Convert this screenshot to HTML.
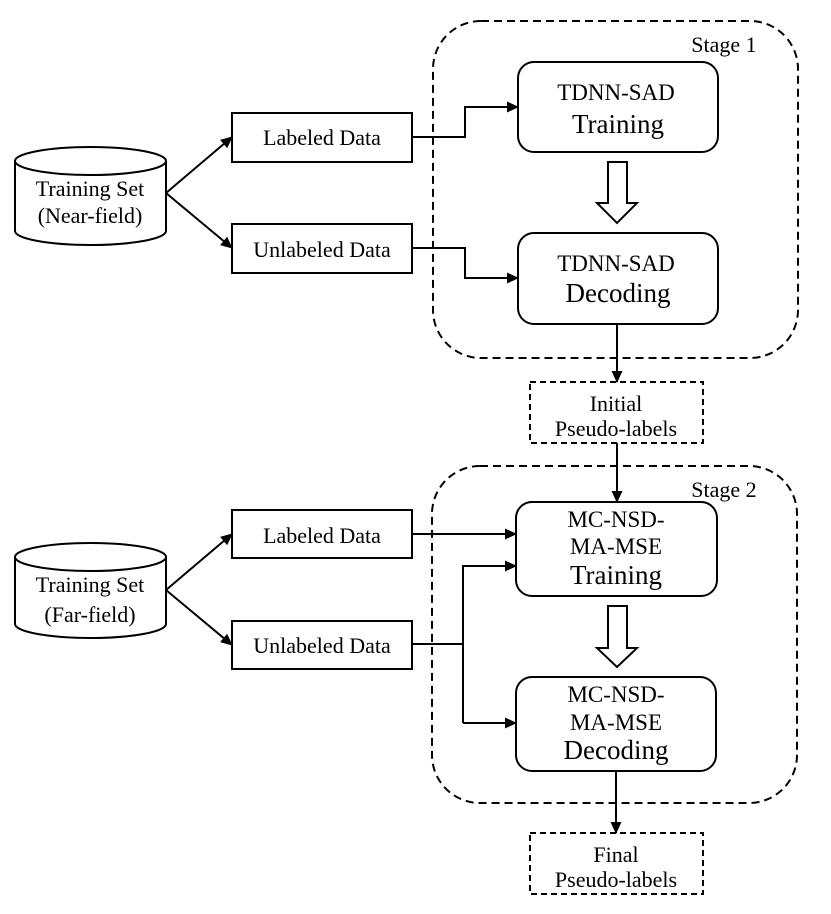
<!DOCTYPE html>
<html><head><meta charset="utf-8"><style>
html,body{margin:0;padding:0;background:#fff;}
svg{display:block;}
text{font-family:"Liberation Serif",serif;fill:#000;text-anchor:middle;}
</style></head><body>
<svg width="831" height="914" viewBox="0 0 831 914" xmlns="http://www.w3.org/2000/svg">
<defs>
<marker id="a" markerWidth="12" markerHeight="12" refX="11" refY="6" orient="auto" markerUnits="userSpaceOnUse">
<path d="M0,0.5 L12,6 L0,11.5 z" fill="#000"/>
</marker>
</defs>
<g fill="none" stroke="#000" stroke-width="2">
<rect x="433" y="21" width="365" height="337" rx="48" stroke-dasharray="8,5"/>
<rect x="432" y="466" width="365" height="337" rx="48" stroke-dasharray="8,5"/>
<path d="M15,161 L15,231 A75.5,14 0 0 0 166,231 L166,161"/>
<ellipse cx="90.5" cy="161" rx="75.5" ry="14"/>
<path d="M15,557 L15,624 A75.5,14 0 0 0 166,624 L166,557"/>
<ellipse cx="90.5" cy="557" rx="75.5" ry="14"/>
<rect x="232" y="113" width="180" height="49"/>
<rect x="232" y="224" width="180" height="49"/>
<rect x="232" y="510" width="180" height="48"/>
<rect x="232" y="621" width="180" height="48"/>
<rect x="518" y="62" width="200" height="90" rx="16"/>
<rect x="518" y="233" width="200" height="91" rx="16"/>
<rect x="516" y="502" width="201" height="94" rx="16"/>
<rect x="516" y="677" width="200" height="94" rx="16"/>
<rect x="530" y="382" width="173" height="61" stroke-dasharray="6,4"/>
<rect x="530" y="833" width="173" height="61" stroke-dasharray="6,4"/>
<path d="M608,162 L627,162 L627,203 L637,203 L617,223 L597,203 L608,203 Z"/>
<path d="M608,606 L627,606 L627,648 L637,648 L617,667 L597,648 L608,648 Z"/>
<line x1="166" y1="193" x2="232" y2="137" marker-end="url(#a)"/>
<line x1="166" y1="193" x2="232" y2="248" marker-end="url(#a)"/>
<line x1="166" y1="590" x2="232" y2="534" marker-end="url(#a)"/>
<line x1="166" y1="590" x2="232" y2="645" marker-end="url(#a)"/>
<polyline points="412,137 465,137 465,107 518,107" marker-end="url(#a)"/>
<polyline points="412,248 465,248 465,278 518,278" marker-end="url(#a)"/>
<line x1="617" y1="324" x2="617" y2="382" marker-end="url(#a)"/>
<line x1="617" y1="443" x2="617" y2="502" marker-end="url(#a)"/>
<line x1="412" y1="534" x2="516" y2="534" marker-end="url(#a)"/>
<line x1="412" y1="644" x2="463" y2="644"/>
<polyline points="463,723 463,566 516,566" marker-end="url(#a)"/>
<line x1="463" y1="723" x2="516" y2="723" marker-end="url(#a)"/>
<line x1="616" y1="771" x2="616" y2="833" marker-end="url(#a)"/>
</g>
<g font-size="22">
<text x="724" y="52">Stage 1</text>
<text x="724" y="497">Stage 2</text>
<text x="90" y="196">Training Set</text>
<text x="90" y="223">(Near-field)</text>
<text x="90" y="592">Training Set</text>
<text x="90" y="622">(Far-field)</text>
<text x="322" y="145">Labeled Data</text>
<text x="322" y="257">Unlabeled Data</text>
<text x="322" y="543">Labeled Data</text>
<text x="322" y="653">Unlabeled Data</text>
<text x="616" y="100" font-size="23">TDNN-SAD</text>
<text x="616" y="271" font-size="23">TDNN-SAD</text>
<text x="616" y="527" font-size="23">MC-NSD-</text>
<text x="616" y="554" font-size="23">MA-MSE</text>
<text x="616" y="702" font-size="23">MC-NSD-</text>
<text x="616" y="730" font-size="23">MA-MSE</text>
<text x="616" y="411">Initial</text>
<text x="616" y="436">Pseudo-labels</text>
<text x="616" y="862">Final</text>
<text x="616" y="887">Pseudo-labels</text>
</g>
<g font-size="27">
<text x="618" y="133">Training</text>
<text x="618" y="302">Decoding</text>
<text x="616" y="584">Training</text>
<text x="616" y="759">Decoding</text>
</g>
</svg>
</body></html>
